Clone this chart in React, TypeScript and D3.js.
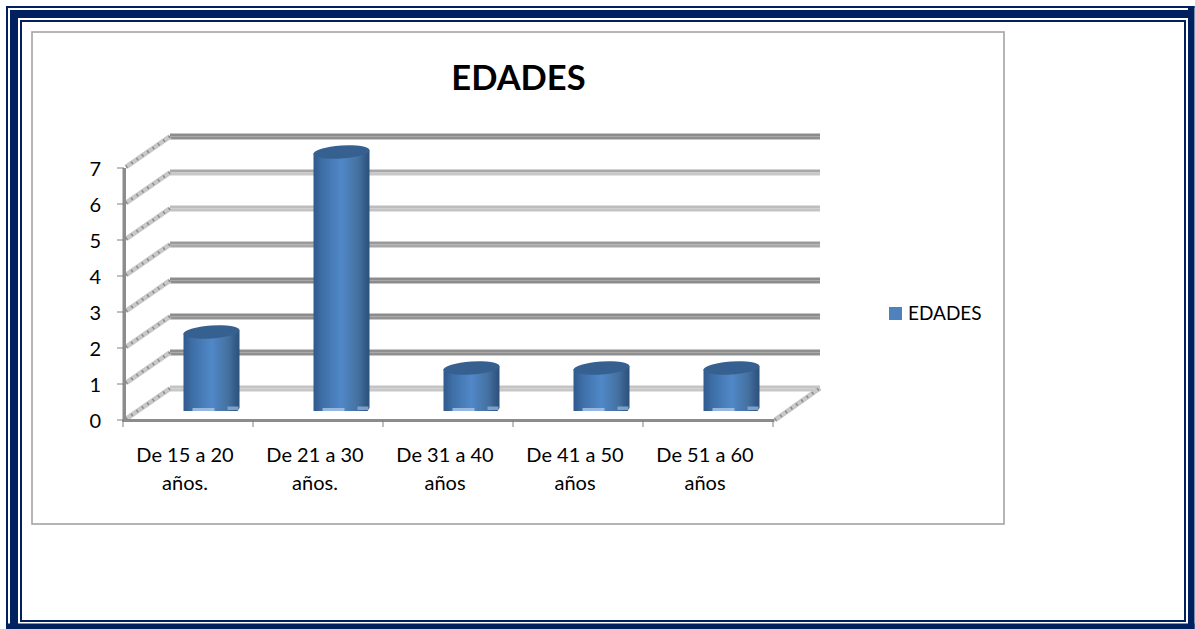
import React from "react";
import * as d3 from "d3";

const categories = ["De 15 a 20 años.", "De 21 a 30 años.", "De 31 a 40 años", "De 41 a 50 años", "De 51 a 60 años"];
const categoryLines = [["De 15 a 20", "años."], ["De 21 a 30", "años."], ["De 31 a 40", "años"], ["De 41 a 50", "años"], ["De 51 a 60", "años"]];
const values = [2, 7, 1, 1, 1];
const yTicks = [0, 1, 2, 3, 4, 5, 6, 7];
const gridTop = ["#c4c4c4", "#8f8f8f", "#8c8c8c", "#8c8c8c", "#9a9a9a", "#bdbdbd", "#a8a8a8", "#8c8c8c"];
const gridBottom = ["#c8c8c8", "#8f8f8f", "#949494", "#8c8c8c", "#a8a8a8", "#c4c4c4", "#c8c8c8", "#8f8f8f"];
const seriesName = "EDADES";
const title = "EDADES";

const FONT = "Lato, 'Open Sans', sans-serif";
const NAVY = "#002060";
const DX = 46;
const DY = 31.5;

const x = d3.scaleBand<string>().domain(categories).range([124, 774]);
const y = d3.scaleLinear().domain([0, 7]).range([420, 168]);
const barW = 56;
const rx = barW / 2;
const ry = 6.5;

function backLine(v: number) {
  return y(v) - DY;
}

export default function App() {
  return (
    <svg width={1195} height={629} style={{ position: "absolute", left: 0, top: 0, background: "#fff" }} fontFamily={FONT}>
      <defs>
        <linearGradient id="cyl" x1="0" x2="1" y1="0" y2="0">
          <stop offset="0" stopColor="#2f5a8c" />
          <stop offset="0.15" stopColor="#3d6ea6" />
          <stop offset="0.5" stopColor="#5188c8" />
          <stop offset="0.8" stopColor="#44709f" />
          <stop offset="1" stopColor="#2b4f7a" />
        </linearGradient>
        <filter id="soft" x="-5%" y="-20%" width="110%" height="140%">
          <feGaussianBlur stdDeviation="0.5" />
        </filter>
      </defs>

      {/* page frame */}
      <rect x={0} y={0} width={1195} height={629} fill="#fff" />
      <rect x={6} y={6} width={1188.5} height={2} fill={NAVY} />
      <rect x={6} y={6} width={2} height={623} fill={NAVY} />
      <rect x={10} y={10} width={1178} height={8} fill={NAVY} />
      <rect x={10} y={10} width={8} height={619} fill={NAVY} />
      <rect x={1188} y={6} width={6.5} height={623} fill={NAVY} />
      <rect x={6} y={623.5} width={1188.5} height={5.5} fill={NAVY} />
      <rect x={21} y={21} width={1164} height={600} fill="none" stroke={NAVY} strokeWidth={2} />

      {/* chart frame */}
      <rect x={32} y={32} width={972} height={492} fill="#fff" stroke="#a3a3a3" strokeWidth={1.6} />

      <text x={518.5} y={89.5} textAnchor="middle" fontSize={34.5} fontWeight={700} fill="#000">{title}</text>

      {/* back wall gridlines */}
      <g filter="url(#soft)">
        {yTicks.map((t, i) => (
          <g key={t}>
            <rect x={170} y={backLine(t) - 3} width={650} height={3} fill={gridTop[i]} />
            <rect x={170} y={backLine(t)} width={650} height={3} fill={gridBottom[i]} />
          </g>
        ))}
      </g>

      {/* side wall diagonals */}
      {yTicks.map((t) => (
        <g key={t} filter="url(#soft)">
          <line x1={126} y1={y(t) - 1} x2={170} y2={backLine(t)} stroke="#c8c8c8" strokeWidth={5} />
          <line x1={126} y1={y(t) - 1} x2={170} y2={backLine(t)} stroke="#8a8a8a" strokeWidth={3} strokeDasharray="1.5 5" />
        </g>
      ))}
      <g filter="url(#soft)">
        <line x1={775} y1={420} x2={820} y2={388} stroke="#c8c8c8" strokeWidth={5} />
        <line x1={775} y1={420} x2={820} y2={388} stroke="#8a8a8a" strokeWidth={3} strokeDasharray="1.5 5" />
      </g>

      {/* axes */}
      <rect x={122.5} y={168} width={3.5} height={254} fill="#8c8c8c" />
      <rect x={122.5} y={419} width={652} height={3} fill="#8c8c8c" />
      {yTicks.map((t) => (
        <line key={t} x1={117} x2={124} y1={y(t)} y2={y(t)} stroke="#808080" strokeWidth={1} />
      ))}
      {[...categories.map((c) => x(c)!), 774].map((px, i) => (
        <line key={i} x1={px - 1} x2={px - 1} y1={420} y2={427} stroke="#808080" strokeWidth={1} />
      ))}

      {/* cylinders */}
      {categories.map((c, i) => {
        const cx = x(c)! + x.bandwidth() / 2 + DX / 2 - 0.5;
        const top = y(values[i]) - 16;
        const base = 411;
        return (
          <g key={c} filter="url(#soft)">
            <path
              d={`M${cx - rx} ${top + 1}V${base}H${cx + rx - 2}L${cx + rx} ${base - 3}V${top - 2}Z`}
              fill="url(#cyl)"
            />
            <rect x={cx - 19} y={base - 3} width={22} height={3} fill="#a4c2e6" opacity={0.85} />
            <rect x={cx + 16} y={base - 4.5} width={11} height={3.5} fill="#8fb0d8" opacity={0.8} />
            <ellipse
              cx={cx}
              cy={top}
              rx={rx}
              ry={ry}
              fill="#36618f"
              transform={`rotate(-4 ${cx} ${top})`}
            />
          </g>
        );
      })}

      {/* y labels */}
      {yTicks.map((t) => (
        <text key={t} x={101} y={y(t) + 8} textAnchor="end" fontSize={20} fill="#000">{t}</text>
      ))}

      {/* x labels */}
      {categories.map((c, i) => (
        <text key={c} textAnchor="middle" fontSize={20} fill="#000">
          {categoryLines[i].map((ln, k) => (
            <tspan key={k} x={x(c)! + x.bandwidth() / 2 - 4} y={462 + k * 28}>{ln}</tspan>
          ))}
        </text>
      ))}

      {/* legend */}
      <rect x={889} y={307} width={13} height={13} fill="#4f81bd" />
      <text x={908} y={320} fontSize={19} fill="#000">{seriesName}</text>
    </svg>
  );
}
